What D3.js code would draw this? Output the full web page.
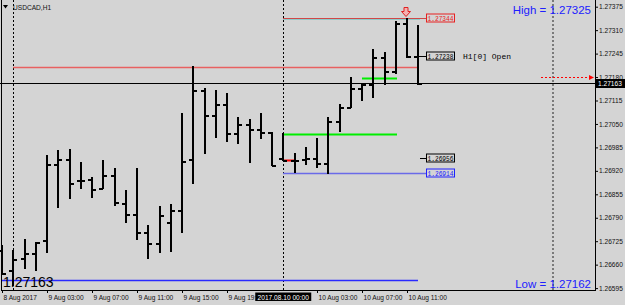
<!DOCTYPE html>
<html><head><meta charset="utf-8">
<script src="https://cdn.jsdelivr.net/npm/d3@7"></script>
<style>html,body{margin:0;padding:0;background:#d4d4d4;} svg{display:block}</style>
</head><body><svg id="c" width="625" height="305"></svg>
<script>
const symbol = "USDCAD,H1";
const times = [
 "2017.08.08 23:00",
 "2017.08.09 00:00","2017.08.09 01:00","2017.08.09 02:00","2017.08.09 03:00","2017.08.09 04:00","2017.08.09 05:00",
 "2017.08.09 06:00","2017.08.09 07:00","2017.08.09 08:00","2017.08.09 09:00","2017.08.09 10:00","2017.08.09 11:00",
 "2017.08.09 12:00","2017.08.09 13:00","2017.08.09 14:00","2017.08.09 15:00","2017.08.09 16:00","2017.08.09 17:00",
 "2017.08.09 18:00","2017.08.09 19:00","2017.08.09 20:00","2017.08.09 21:00","2017.08.09 22:00","2017.08.09 23:00",
 "2017.08.10 00:00","2017.08.10 01:00","2017.08.10 02:00","2017.08.10 03:00","2017.08.10 04:00","2017.08.10 05:00",
 "2017.08.10 06:00","2017.08.10 07:00","2017.08.10 08:00","2017.08.10 09:00","2017.08.10 10:00","2017.08.10 11:00",
 "2017.08.10 12:00"
];
const open  = [1.26701,1.26645,1.26678,1.26692,1.26728,1.26939,1.26953,1.26895,1.26897,1.26872,1.26909,1.26831,1.26800,1.26751,1.26720,1.26778,1.26812,1.26953,1.27144,1.27075,1.27105,1.27025,1.27050,1.27036,1.27028,1.26956,1.26950,1.26953,1.26956,1.26942,1.27058,1.27097,1.27150,1.27161,1.27236,1.27197,1.27330,1.27238];
const high  = [1.26715,1.26701,1.26731,1.26723,1.26964,1.26978,1.26981,1.26945,1.26903,1.26950,1.26928,1.26867,1.26928,1.26770,1.26823,1.26828,1.27080,1.27211,1.27150,1.27144,1.27136,1.27069,1.27064,1.27080,1.27028,1.27025,1.26970,1.26986,1.27011,1.27069,1.27105,1.27180,1.27164,1.27258,1.27249,1.27335,1.27344,1.27325];
const low   = [1.26637,1.26604,1.26651,1.26645,1.26695,1.26820,1.26845,1.26872,1.26848,1.26872,1.26825,1.26778,1.26731,1.26678,1.26695,1.26698,1.26751,1.26886,1.26970,1.27014,1.27003,1.26997,1.26945,1.27011,1.26936,1.26950,1.26917,1.26939,1.26931,1.26914,1.27030,1.27097,1.27116,1.27125,1.27161,1.27191,1.27236,1.27162];
const close = [1.26637,1.26676,1.26692,1.26723,1.26939,1.26953,1.26886,1.26895,1.26870,1.26909,1.26834,1.26800,1.26751,1.26720,1.26798,1.26812,1.26947,1.27144,1.27075,1.27105,1.27025,1.27050,1.27036,1.27028,1.26936,1.26950,1.26950,1.26956,1.26942,1.27058,1.27097,1.27150,1.27161,1.27236,1.27197,1.27330,1.27237,1.27163];

const priceTicks = [1.26595,1.26660,1.26725,1.26790,1.26855,1.26920,1.26985,1.27050,1.27115,1.27180,1.27245,1.27310,1.27375];
const timeTickIdx = [0,4,8,12,16,20,28,32,36];
const timeTickLabels = ["8 Aug 2017","9 Aug 03:00","9 Aug 07:00","9 Aug 11:00","9 Aug 15:00","9 Aug 19:00","10 Aug 03:00","10 Aug 07:00","10 Aug 11:00"];

const currentPrice = 1.27163;
const dayHighText = "High = 1.27325";
const dayLowText = "Low = 1.27162";
const prevHighLevel = 1.27208;
const bottomLevel = 1.26617;
const topLevel = 1.27344;
const openLevel = 1.27238;
const dayOpenLevel = 1.26956;
const dayLowLevel = 1.26914;
const greenLevel1 = 1.27021;
const greenLevel2 = 1.27177;
const redShortLevel = 1.26950;
const arrowLevel = 1.27180;
const separatorTime = "2017.08.10 00:00";

const svg = d3.select("#c");
const W = 625, H = 305;
svg.append("rect").attr("width",W).attr("height",H).attr("fill","#d4d4d4");
const defs = svg.append("defs");

const x = d3.scalePoint().domain(times).range([2, 418.25]);
const y = d3.scaleLinear().domain([1.26595, 1.27375]).range([288.1, 6.7]);
const X = t => Math.round(x(t));
const Y = p => Math.round(y(p)) + 0.5;

const font = "'Liberation Sans', Arial, sans-serif";
const mono = "'Liberation Mono', 'Courier New', monospace";
const sepX = x(separatorTime);

// frame
svg.append("line").attr("x1",1.5).attr("x2",1.5).attr("y1",0).attr("y2",290).attr("stroke","#000");
svg.append("line").attr("x1",595.5).attr("x2",595.5).attr("y1",0).attr("y2",290).attr("stroke","#000");
svg.append("line").attr("x1",1).attr("x2",596).attr("y1",290.5).attr("y2",290.5).attr("stroke","#000");

// vertical separators
svg.append("line").attr("x1",X(times[1])+0.5).attr("x2",X(times[1])+0.5).attr("y1",0).attr("y2",290)
  .attr("stroke","#000").attr("stroke-dasharray","2,2");
svg.append("line").attr("x1",X(separatorTime)+0.5).attr("x2",X(separatorTime)+0.5).attr("y1",0).attr("y2",290)
  .attr("stroke","#000").attr("stroke-dasharray","2,2");
svg.append("line").attr("x1",553).attr("x2",553).attr("y1",0).attr("y2",290)
  .attr("stroke","#7a7a7a").attr("stroke-width",2).attr("stroke-dasharray","2,2");

// level lines
function hline(p, i0, x2, color, w){
  svg.append("line").attr("x1", typeof i0==="number"? i0 : X(i0)).attr("x2", x2)
    .attr("y1", Y(p)).attr("y2", Y(p)).attr("stroke", color).attr("stroke-width", w||1);
}
hline(prevHighLevel, times[1], X(times[37]), "#e86060", 1.5);
hline(bottomLevel, 2, X(times[37]), "#2a2aff", 1.5);
hline(topLevel, separatorTime, 426, "#d04848", 1);
svg.append("line").attr("x1",X(separatorTime)).attr("x2",420).attr("y1",Y(topLevel)+1).attr("y2",Y(topLevel)+1).attr("stroke","#8fcaca");
hline(dayLowLevel, separatorTime, 426, "#6a6ae8", 1.5);
hline(greenLevel1, separatorTime, X(times[35])+1, "#00ee00", 2);
hline(greenLevel2, times[32], X(times[35])+1, "#00ee00", 2);
hline(redShortLevel, separatorTime, X(times[26]), "#ff0000", 2);
hline(currentPrice, 0, 596, "#000", 1);
hline(openLevel, X(times[37]), 426, "#000", 1);
hline(dayOpenLevel, X(times[37])+2, 426, "#000", 1);

// bars
const bars = svg.append("g").attr("shape-rendering","crispEdges");
times.forEach((t,i)=>{
  const cx = X(t);
  bars.append("line").attr("x1",cx).attr("x2",cx).attr("y1",Math.round(y(high[i]))).attr("y2",Math.round(y(low[i]))+1)
    .attr("stroke","#000").attr("stroke-width",2);
  bars.append("line").attr("x1",cx-4).attr("x2",cx).attr("y1",Y(open[i])).attr("y2",Y(open[i]))
    .attr("stroke","#000").attr("stroke-width",2);
  bars.append("line").attr("x1",cx).attr("x2",cx+4).attr("y1",Y(close[i])).attr("y2",Y(close[i]))
    .attr("stroke","#000").attr("stroke-width",2);
});

// red down arrow above the high
{
  const ax = X(times[36]) - 1, ay = Y(topLevel) - 11;
  svg.append("path").attr("d",`M${ax-2},${ay} h4 v4 h2.5 l-4.5,5 l-4.5,-5 h2.5 z`)
    .attr("fill","#f4b0b0").attr("stroke","#e02020").attr("stroke-width",1);
}

// label boxes
function box(p, txt, color){
  const yy = Y(p);
  svg.append("rect").attr("x",426.5).attr("y",yy-4.5).attr("width",28).attr("height",8)
    .attr("fill","#d4d4d4").attr("stroke",color);
  svg.append("text").attr("x",427.5).attr("y",yy+2.5).attr("font-family",mono).attr("font-size",6.8)
    .attr("textLength",26).attr("lengthAdjust","spacingAndGlyphs").attr("fill",color).text(txt);
}
box(topLevel, d3.format(".5f")(topLevel), "#e82020");
box(openLevel, d3.format(".5f")(openLevel), "#000");
box(dayOpenLevel, d3.format(".5f")(dayOpenLevel), "#000");
box(dayLowLevel, d3.format(".5f")(dayLowLevel), "#2020ff");
svg.append("text").attr("x",463).attr("y",Y(openLevel)+2.5).attr("font-family",mono).attr("font-size",7.5)
  .attr("textLength",48).attr("lengthAdjust","spacingAndGlyphs").attr("fill","#000").text("H1[0] Open");

// red dotted arrow
svg.append("line").attr("x1",541).attr("x2",590).attr("y1",Y(arrowLevel)).attr("y2",Y(arrowLevel))
  .attr("stroke","#ff0000").attr("stroke-dasharray","2,2");
svg.append("path").attr("d",`M589,${Y(arrowLevel)-2.5} L594,${Y(arrowLevel)} L589,${Y(arrowLevel)+2.5} z`).attr("fill","#ff0000");

// right axis
const ra = svg.append("g").attr("transform","translate(595,0)")
  .call(d3.axisRight(y).tickValues(priceTicks).tickSize(3).tickPadding(1).tickFormat(d3.format(".5f")));
ra.select(".domain").remove();
ra.selectAll("text").attr("font-family",font).attr("font-size",6.6).attr("fill","#111").attr("dy","0.32em");
ra.selectAll("line").attr("stroke","#000");

// current price tag
svg.append("rect").attr("x",596).attr("y",Y(currentPrice)-4.5).attr("width",29).attr("height",9).attr("fill","#000");
svg.append("text").attr("x",598).attr("y",Y(currentPrice)+2.5).attr("font-family",font).attr("font-size",6.6)
  .attr("fill","#fff").text(d3.format(".5f")(currentPrice));

// bottom axis
const ba = svg.append("g").attr("transform","translate(0,290)")
  .call(d3.axisBottom(x).tickValues(timeTickIdx.map(i=>times[i])).tickSize(3)
    .tickFormat((d,i)=>timeTickLabels[i]));
ba.select(".domain").remove();
ba.selectAll("line").attr("stroke","#000");
ba.selectAll("text").attr("font-family",font).attr("font-size",6.6).attr("fill","#111")
  .attr("text-anchor","start").attr("x",1).attr("y",9.5).attr("dy",0);
// the label that runs under the separator time tag is cut at the tag's left edge
ba.selectAll(".tick").filter(d => x(d) < sepX && x(d) + 40 > sepX - 28).each(function(d, k){
  const tx = x(d);
  const id = "tclip" + k;
  defs.append("clipPath").attr("id", id)
    .append("rect").attr("x",-20).attr("y",-20).attr("width",(sepX-28)-tx+20).attr("height",40);
  d3.select(this).select("text").attr("clip-path",`url(#${id})`);
});

// separator time tag
svg.append("rect").attr("x",sepX-28).attr("y",292.5).attr("width",56).attr("height",8.5).attr("fill","#000");
svg.append("text").attr("x",sepX).attr("y",299.5).attr("text-anchor","middle").attr("font-family",font)
  .attr("font-size",6.6).attr("fill","#fff").text(separatorTime);

// title
svg.append("path").attr("d","M3,5 L8,5 L5.5,8.5 z").attr("fill","#000");
svg.append("text").attr("x",13).attr("y",9.5).attr("font-family",font).attr("font-size",6.6)
  .attr("fill","#111").text(symbol);

// info texts
svg.append("text").attr("x",591).attr("y",14).attr("text-anchor","end").attr("font-family",font)
  .attr("font-size",11.5).attr("fill","#2020ff").text(dayHighText);
svg.append("text").attr("x",591).attr("y",287.5).attr("text-anchor","end").attr("font-family",font)
  .attr("font-size",11.5).attr("fill","#2020ff").text(dayLowText);
svg.append("text").attr("x",3).attr("y",287).attr("font-family",font)
  .attr("font-size",14).attr("fill","#000").text(d3.format(".5f")(currentPrice));
</script></body></html>
